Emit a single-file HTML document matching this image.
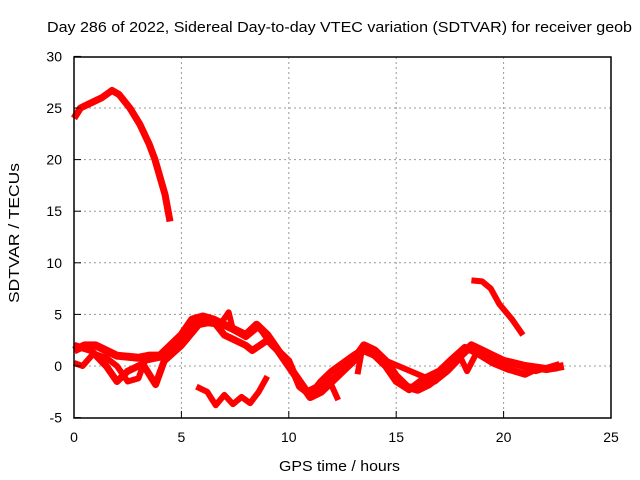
<!DOCTYPE html>
<html><head><meta charset="utf-8"><style>
body{margin:0;background:#fff}
svg{display:block;font-family:"Liberation Sans",sans-serif}
</style></head><body>
<svg id="c" width="640" height="480">
<text x="47" y="32" font-size="15" textLength="585" lengthAdjust="spacingAndGlyphs">Day 286 of 2022, Sidereal Day-to-day VTEC variation (SDTVAR) for receiver geob</text>
<text x="279" y="471" font-size="15" textLength="121" lengthAdjust="spacingAndGlyphs">GPS time / hours</text>
<text transform="translate(19,303) rotate(-90)" font-size="15" textLength="140" lengthAdjust="spacingAndGlyphs">SDTVAR / TECUs</text>
<g id="grid"></g>
<g id="marks"></g>
<rect x="74" y="57" width="537" height="361" fill="none" stroke="#000" stroke-width="1.5"/>
<g id="ticks"></g>
</svg>
<script>
const xTicks=[0,5,10,15,20,25];
const yTicks=[-5,0,5,10,15,20,25,30];
const seriesTop=[[0,24],[0.3,25],[0.8,25.5],[1.3,26],[1.77,26.7],[2.1,26.3],[2.6,25],[3.07,23.4],[3.5,21.5],[3.77,20],[4.24,16.6],[4.47,14]];
const seriesLate=[[18.5,8.3],[19,8.2],[19.4,7.5],[19.8,6],[20.4,4.5],[20.9,3]];
const seriesDip=[[5.7,-2],[6.2,-2.5],[6.6,-3.8],[7,-2.8],[7.4,-3.7],[7.8,-3],[8.2,-3.6],[8.6,-2.5],[9,-1]];
const seriesMain1=[[0,1.5],[0.5,2],[1,2],[1.5,1.5],[2,1],[3,0.8],[3.5,1],[4,1],[4.5,2],[5,3],[5.5,4.5],[6,4.8],[6.5,4.5],[7,4],[7.5,3.5],[8,3],[8.5,4],[9,3],[9.5,1.5],[10,0],[10.5,-1.5],[11,-3],[11.5,-2.5],[12,-1.5],[12.5,-0.5],[13,0.5],[13.5,2],[14,1.5],[14.5,0.5],[15,-1],[15.5,-2],[16,-2.3],[16.5,-1.8],[17,-1],[17.5,0],[18,1],[18.5,2],[19,1.5],[19.5,1],[20,0.5],[21,0],[22,-0.3],[22.8,0]];
const seriesMain2=[[0,0.3],[0.4,0],[0.9,1.2],[1.5,0.8],[2,0],[2.5,-1.5],[3,-1.2],[3.3,0.5],[4,0.8],[4.6,1.5],[5,2.5],[5.5,3.8],[6,4.2],[6.8,4],[7.2,5.2],[7.4,3.5],[8,2.8],[8.6,3.8],[9.2,2],[9.8,0.8],[10.3,-1],[10.8,-2.5],[11.3,-2],[11.8,-1],[12.3,-3.3]];
const seriesMain3=[[0,2],[0.8,1.5],[1.5,0],[2,-1.5],[2.5,-0.5],[3.2,0.2],[3.8,-1.8],[4.2,0.5],[5,2],[5.8,4],[6.5,4.3],[7,3],[7.5,2.5],[8,2],[8.3,1.5],[9,2.5],[10,0.5],[10.5,-2],[11,-2.8],[11.5,-1.5],[12,-0.5],[13,1],[13.6,1.8],[14.5,0],[15,-1.5],[15.6,-2.3],[16.3,-1.2],[17,-0.5],[17.5,0.5],[18.2,1.8],[18.8,1.2],[19.5,0.3],[20.2,-0.3],[21,-0.8],[21.5,-0.3],[22.5,-0.2]];
const seriesMain4=[[13.2,-0.8],[13.4,1.5],[16.8,-1.5],[17.4,-0.5],[18,0.8],[18.3,-0.5],[18.8,1.5],[19.6,0.8],[20.5,0.2],[21.5,-0.5],[22.6,0.2]];
const X=v=>74+v*21.48, Y=v=>366-v*10.32;
const ns="http://www.w3.org/2000/svg";
const grid=document.getElementById('grid'),ticks=document.getElementById('ticks'),marks=document.getElementById('marks');
function mk(tag,attrs,parent){const e=document.createElementNS(ns,tag);for(const k in attrs)e.setAttribute(k,attrs[k]);parent.appendChild(e);return e;}
xTicks.forEach(t=>{
 if(t>0&&t<25){const g=mk('line',{x1:X(t),x2:X(t),y1:57,y2:418,stroke:'#999','stroke-dasharray':'2,3'},grid);
 
 }
 const tk=mk('line',{x1:X(t),x2:X(t),y1:418,y2:411,stroke:'#000'},ticks);
 
 
 const l=mk('text',{x:X(t),y:442,'font-size':14,'text-anchor':'middle'},ticks);l.textContent=t;
 
 
});
yTicks.forEach(t=>{
 if(t>-5&&t<30){const g=mk('line',{x1:74,x2:611,y1:Y(t),y2:Y(t),stroke:'#999','stroke-dasharray':'2,3'},grid);
 
 }
 const tk=mk('line',{x1:74,x2:81,y1:Y(t),y2:Y(t),stroke:'#000'},ticks);
 
 
 const l=mk('text',{x:62,y:Y(t)+5,'font-size':14,'text-anchor':'end'},ticks);l.textContent=t;
 
 
});
[[seriesTop,7],[seriesLate,6],[seriesDip,6],[seriesMain1,8],[seriesMain2,6],[seriesMain3,7],[seriesMain4,6]].forEach(([s,w])=>{
 const p=mk('polyline',{points:s.map(d=>X(d[0])+','+Y(d[1])).join(' '),fill:'none',stroke:'#f00','stroke-width':w,'stroke-linejoin':'round'},marks);
 
 
});
</script>
</body></html>
